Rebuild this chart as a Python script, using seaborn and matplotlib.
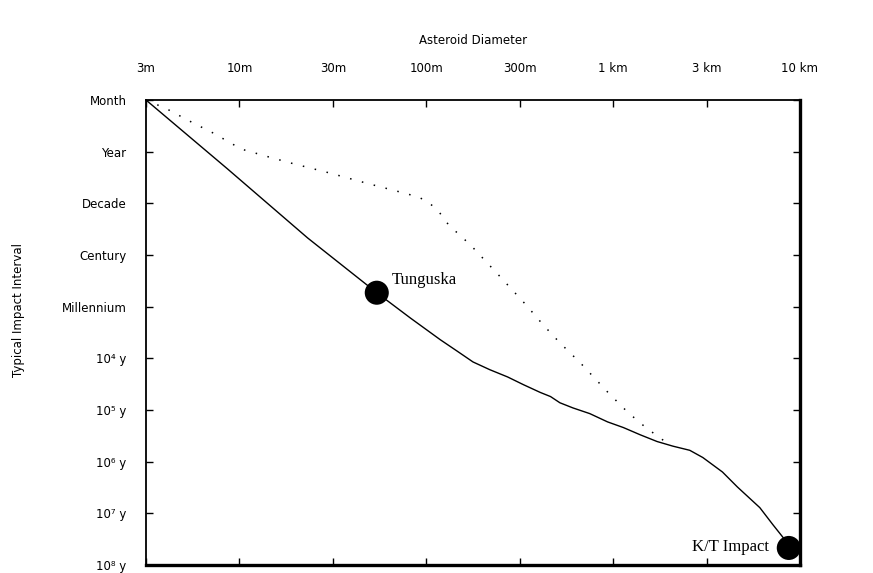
import matplotlib
matplotlib.use('Agg')
import matplotlib.pyplot as plt
import seaborn as sns
import pandas as pd

# axis categories (evenly spaced on the chart)
diameter_labels = ['3m', '10m', '30m', '100m', '300m', '1 km', '3 km', '10 km']
interval_labels = ['Month', 'Year', 'Decade', 'Century', 'Millennium',
                   '10⁴ y', '10⁵ y', '10⁶ y', '10⁷ y', '10⁸ y']

# solid curve, in tick-index units (x: diameter tick, y: interval tick)
solid_x = [0.00, 0.87, 1.73, 2.47, 2.83, 3.15, 3.33, 3.50, 3.68, 3.87, 4.04, 4.22,
           4.33, 4.43, 4.57, 4.75, 4.94, 5.11, 5.29, 5.47, 5.64, 5.82, 5.96, 6.17,
           6.33, 6.57, 6.71, 6.82, 6.90]
solid_y = [0.00, 1.33, 2.67, 3.73, 4.22, 4.64, 4.86, 5.07, 5.22, 5.36, 5.51, 5.66,
           5.74, 5.86, 5.96, 6.07, 6.23, 6.34, 6.48, 6.61, 6.70, 6.78, 6.92, 7.20,
           7.49, 7.89, 8.22, 8.47, 8.67]

# dotted curve
dotted_x = [0.00, 0.22, 0.50, 0.72, 1.02, 1.31, 1.55, 1.96, 2.36, 2.76, 2.92, 3.03,
            3.13, 3.24, 3.47, 3.77, 4.07, 4.25, 4.43, 4.65, 4.95, 5.16, 5.35, 5.57]
dotted_y = [0.00, 0.17, 0.44, 0.64, 0.95, 1.10, 1.22, 1.41, 1.61, 1.80, 1.88, 1.99,
            2.15, 2.42, 2.80, 3.38, 3.97, 4.35, 4.70, 5.09, 5.67, 6.05, 6.34, 6.63]

# named impacts
event_names = ['Tunguska', 'K/T Impact']
event_x = [2.47, 6.88]
event_y = [3.73, 8.67]

sns.set_style('ticks')
plt.rcParams['font.family'] = ['DejaVu Sans']
plt.rcParams['text.color'] = 'black'
plt.rcParams['axes.labelcolor'] = 'black'
plt.rcParams['xtick.color'] = 'black'
plt.rcParams['ytick.color'] = 'black'

fig = plt.figure(figsize=(8.73, 5.73), dpi=100)
ax = fig.add_axes([146 / 873, 1 - 565 / 573, 654 / 873, 465 / 573])

df_solid = pd.DataFrame({'x': solid_x, 'y': solid_y})
df_dotted = pd.DataFrame({'x': dotted_x, 'y': dotted_y})
df_events = pd.DataFrame({'x': event_x, 'y': event_y, 'name': event_names})

sns.lineplot(data=df_solid, x='x', y='y', ax=ax, color='black', lw=1.0,
             estimator=None, sort=False)
sns.lineplot(data=df_dotted, x='x', y='y', ax=ax, color='black', lw=1.1,
             ls=(0, (1, 7)), estimator=None, sort=False)
sns.scatterplot(data=df_events, x='x', y='y', ax=ax, color='black', s=300,
                marker='o', edgecolor='none', zorder=5)

for _, row in df_events.iterrows():
    if row['name'] == 'Tunguska':
        off, ha = (11, 6), 'left'
    else:
        off, ha = (-14, -2), 'right'
    ax.annotate(row['name'], xy=(row['x'], row['y']), xytext=off,
                textcoords='offset points', ha=ha, va='baseline',
                family='Liberation Serif', fontsize=12, color='black')

ax.set_xlim(0, len(diameter_labels) - 1)
ax.set_ylim(len(interval_labels) - 1, 0)
ax.set_xticks(range(len(diameter_labels)))
ax.set_xticklabels(diameter_labels)
ax.set_yticks(range(len(interval_labels)))
ax.set_yticklabels(interval_labels)

ax.tick_params(axis='both', direction='in', length=5, width=1, labelsize=8.5,
               colors='black', top=True, bottom=True, left=True, right=True,
               labeltop=True, labelbottom=False)
ax.tick_params(axis='x', pad=18)
ax.tick_params(axis='y', pad=14)

ax.xaxis.set_label_position('top')
ax.set_xlabel('Asteroid Diameter', fontsize=8.5, labelpad=13)
ax.set_ylabel('Typical Impact Interval', fontsize=8.5)
ax.yaxis.set_label_coords(-0.185, 0.548)

for side in ['top', 'left']:
    ax.spines[side].set_linewidth(1.3)
for side in ['bottom', 'right']:
    ax.spines[side].set_linewidth(2.4)
for spine in ax.spines.values():
    spine.set_color('black')

fig.savefig('out.png', dpi=100, facecolor='white')
